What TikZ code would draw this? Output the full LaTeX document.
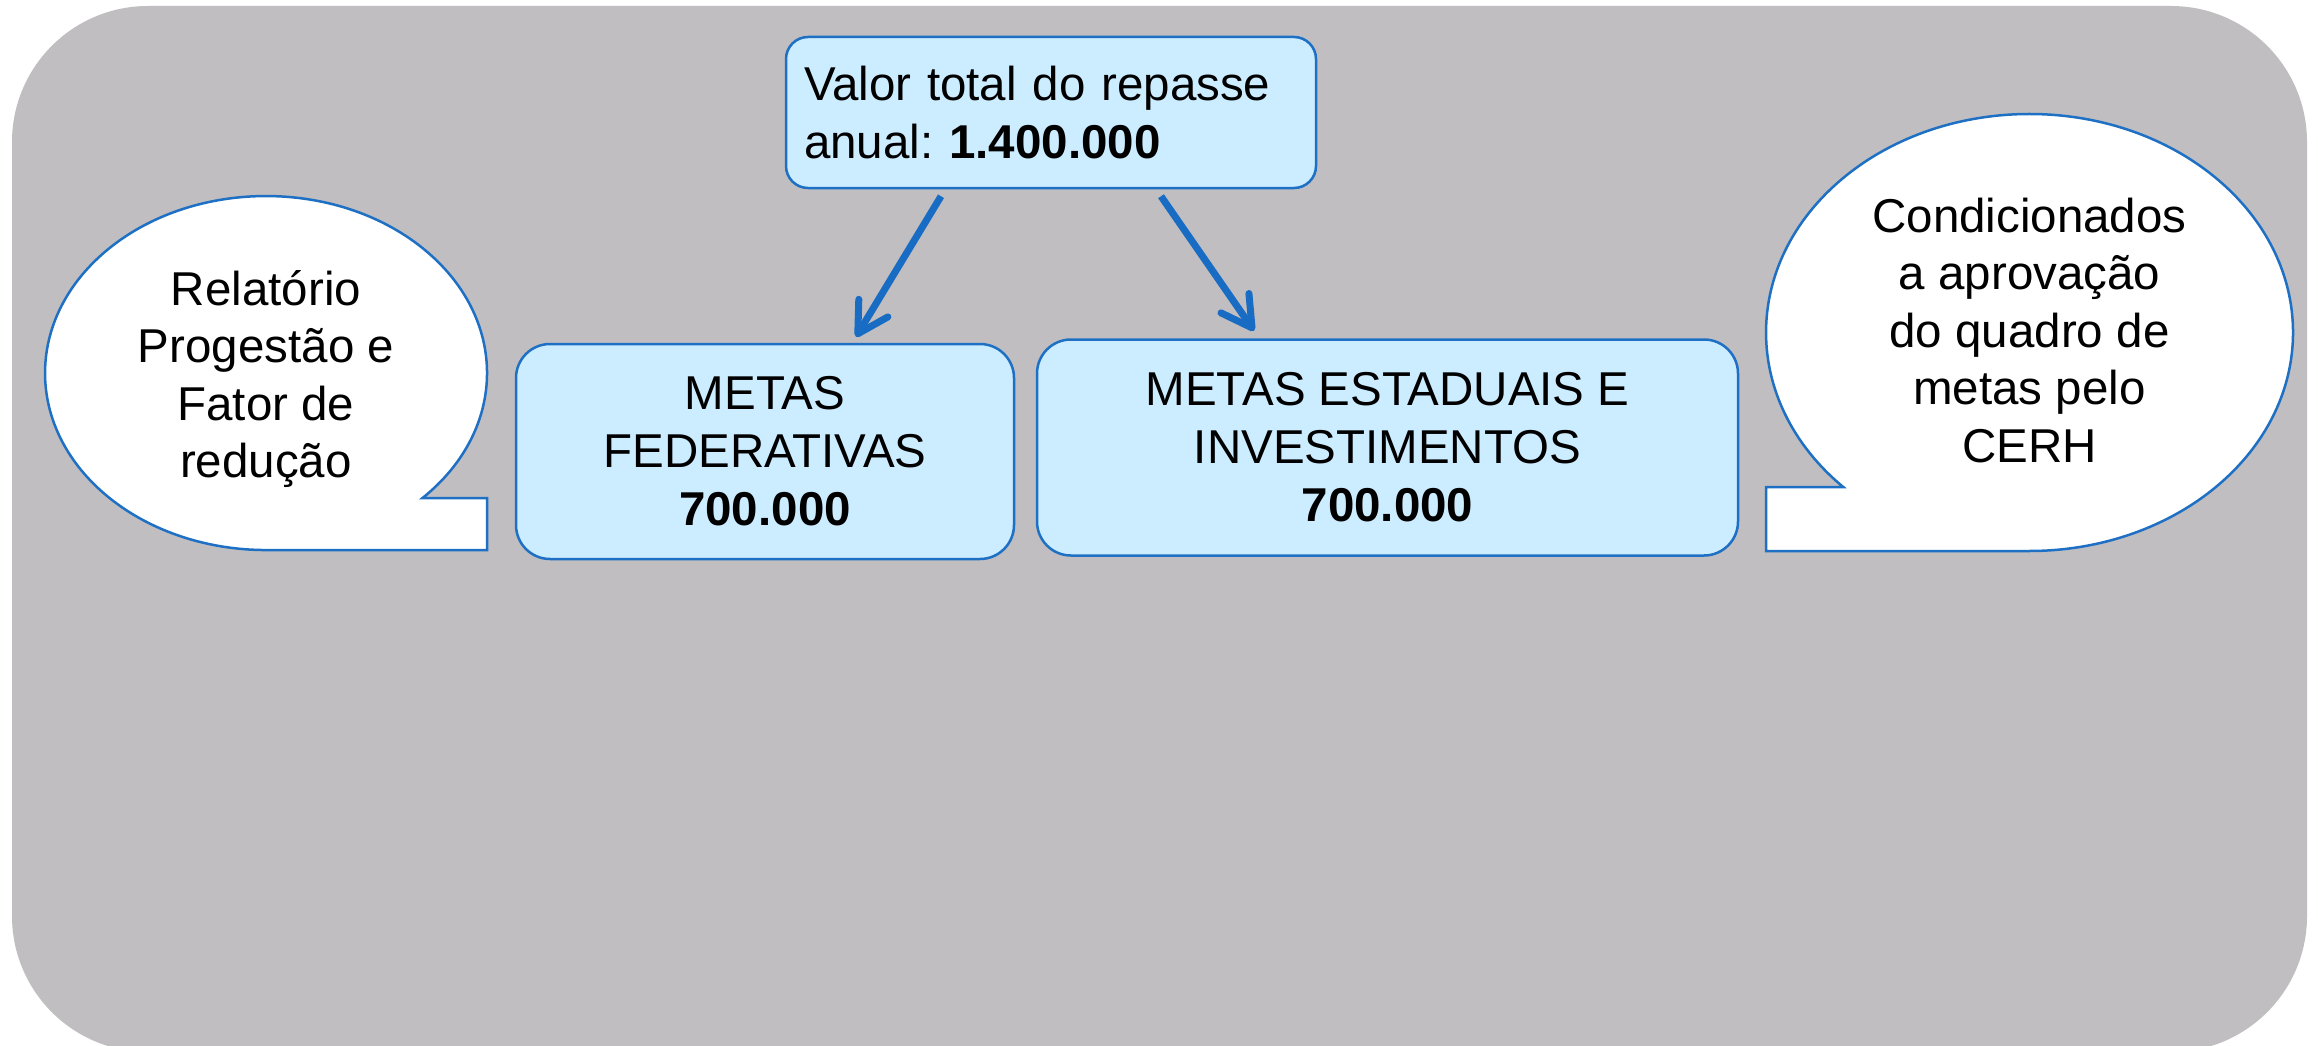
\documentclass[tikz,border=0pt]{standalone}
\usepackage{fontspec}
\setmainfont{Liberation Sans}
\usetikzlibrary{arrows.meta,calc}
\definecolor{bggray}{RGB}{192,190,192}
\definecolor{boxfill}{RGB}{204,236,255}
\definecolor{boxline}{RGB}{30,112,196}
\definecolor{arrowblue}{RGB}{24,108,196}
\frenchspacing
\begin{document}
\begin{tikzpicture}[x=1pt,y=-1pt,
  txt/.style={font=\fontsize{47.5}{57.5}\selectfont},
  metabox/.style={draw=boxline, line width=2.5pt, fill=boxfill, rounded corners=34pt, align=center, font=\fontsize{47.5}{58}\selectfont, inner sep=0pt},
  bubble/.style={draw=boxline, line width=2.5pt, fill=white},
  link/.style={draw=arrowblue, line width=7pt, -{Straight Barb[length=30pt,width=34pt,round]}}
]
\useasboundingbox (0,0) rectangle (2318,1046);
\clip (0,0) rectangle (2318,1046);
\fill[white] (0,0) rectangle (2318,1046);
\fill[bggray, rounded corners=136pt] (12,6) rectangle (2307,1052);

% speech bubbles
\draw[bubble] (422.3,498.2) arc[start angle=45, end angle=-270, x radius=221, y radius=177] -- (487,550) -- (487,498.2) -- cycle;
\node[txt, align=center] (reltxt) at (266,379) {Relatório\\Progestão e\\Fator de\\redução};

\draw[bubble] (1843.2,487) arc[start angle=135, end angle=450, x radius=263.5, y radius=218.5] -- (1766,551) -- (1766,487) -- cycle;
\node[txt, align=center] (condtxt) at (2029.5,330.5) {Condicionados\\a aprovação\\do quadro de\\metas pelo\\CERH};

% boxes
\node[draw=boxline, line width=2.5pt, fill=boxfill, rounded corners=22pt, txt, text width=494pt, inner xsep=18pt, inner ysep=0pt, minimum height=151pt, align=left] (total) at (1051,112.5) {Valor total do repasse\\anual: \textbf{1.400.000}};
\node[metabox, minimum width=498pt, minimum height=215pt] (fed) at (765,451.5) {METAS\\FEDERATIVAS\\\textbf{700.000}};
\node[metabox, minimum width=701pt, minimum height=216pt] (est) at (1387.5,447.5) {METAS ESTADUAIS E\\INVESTIMENTOS\\\textbf{700.000}};

% connectors
\draw[link] ($(total.south)+(-110,7)$) -- ($(fed.north)+(91,-6)$);
\draw[link] ($(total.south)+(110,7)$) -- ($(est.north)+(-133.5,-7.5)$);
\end{tikzpicture}
\end{document}
